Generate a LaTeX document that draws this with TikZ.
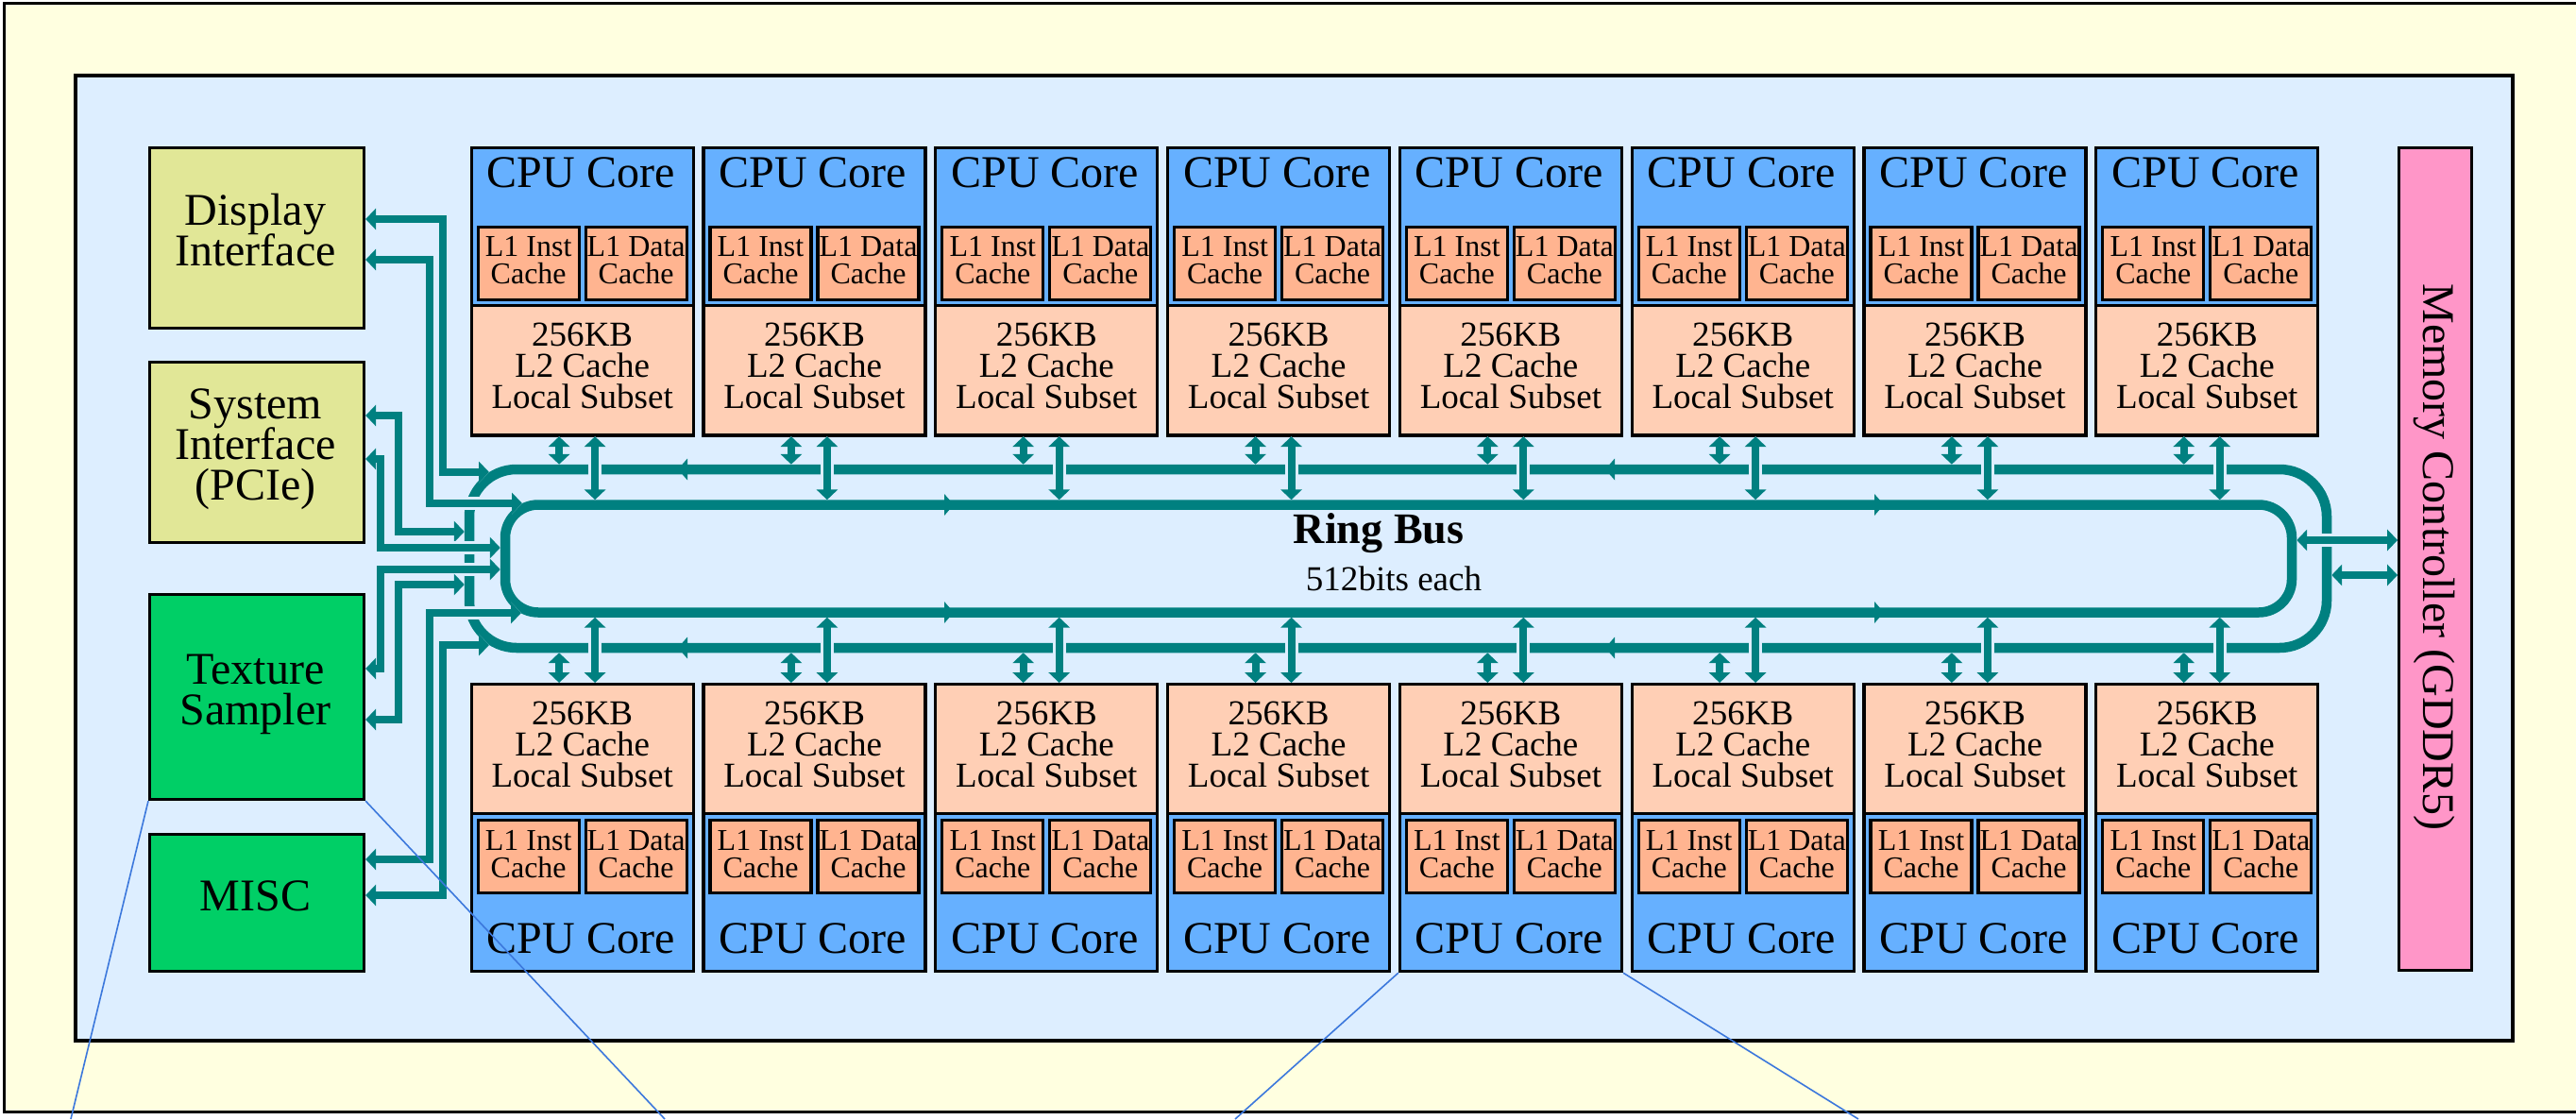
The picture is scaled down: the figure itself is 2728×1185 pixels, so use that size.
\documentclass[tikz,border=0pt]{standalone}
\usepackage{fontspec}
\setmainfont{Liberation Serif}
\usetikzlibrary{arrows.meta,calc}
\newdimen\pxu
\pxu=0.01cm
\definecolor{bgyellow}{HTML}{FFFFE0}
\definecolor{bgblue}{HTML}{DDEEFF}
\definecolor{cpublue}{HTML}{66B0FF}
\definecolor{lonefill}{HTML}{FFB490}
\definecolor{ltwofill}{HTML}{FFCFB5}
\definecolor{ifacefill}{HTML}{E1E797}
\definecolor{texfill}{HTML}{00CF66}
\definecolor{mcfill}{HTML}{FF96C8}
\definecolor{busteal}{HTML}{008080}
\definecolor{calloutblue}{HTML}{3C78DC}
\newcommand\myfbig{\fontsize{13.66pt}{12.23pt}\selectfont\lineskiplimit=-20pt\relax}
\newcommand\myfmid{\fontsize{10.53pt}{9.39pt}\selectfont\lineskiplimit=-20pt\relax}
\newcommand\myfsmall{\fontsize{9.1pt}{8.25pt}\selectfont\lineskiplimit=-20pt\relax}
\tikzset{
  blk/.style={draw=black, line width=3.2\pxu, inner sep=0pt, anchor=north west},
  cpubox/.style={blk, fill=cpublue, minimum width=235\pxu},
  lonebox/.style={blk, fill=lonefill, minimum width=107\pxu, minimum height=77\pxu},
  ltwobox/.style={blk, fill=ltwofill, minimum width=235\pxu, minimum height=137\pxu},
  bigtxt/.style={inner sep=0pt, font=\myfbig, align=center},
  midtxt/.style={inner sep=0pt, font=\myfmid, align=center},
  smalltxt/.style={inner sep=0pt, font=\myfsmall, align=center},
  ringline/.style={draw=busteal, line width=10.5\pxu, inner sep=0pt, outer sep=5.25\pxu},
  conn/.style={draw=busteal, line width=8\pxu,
    {Triangle[length=3.1pt,width=6.3pt]}-{Triangle[length=3.1pt,width=6.3pt]},
    preaction={draw=bgblue, line width=14\pxu}},
  ringtip/.style={fill=busteal},
  calloutln/.style={draw=calloutblue, line width=1.6\pxu}
}
\begin{document}
\begin{tikzpicture}[x=0.01cm,y=-0.01cm]
\useasboundingbox (0,0) rectangle (2728,1185);
\fill[white] (0,0) rectangle (2728,1185);
\draw[line width=3\pxu, fill=bgyellow] (4,4) rectangle (2800,1177);
\draw[line width=3.2\pxu, fill=bgblue] (80,80) rectangle (2661,1102);

% left side blocks
\node[blk, fill=ifacefill, minimum width=227\pxu, minimum height=191\pxu] (disp) at (157,155) {};
\node[bigtxt] (dispt) at (270.5,244) {Display\\Interface};
\node[blk, fill=ifacefill, minimum width=227\pxu, minimum height=191\pxu] (sysi) at (157,382) {};
\node[bigtxt] (sysit) at (270.5,476) {System\\Interface\\(PCIe)};
\node[blk, fill=texfill, minimum width=227\pxu, minimum height=217\pxu] (texs) at (157,628) {};
\node[bigtxt] (texst) at (270.5,735.5) {Texture\\Sampler};
\node[blk, fill=texfill, minimum width=227\pxu, minimum height=145\pxu] (misc) at (157,882) {};
\node[bigtxt, anchor=base] (misct) at (270.5,964.6) {MISC};

% memory controller
\node[blk, fill=mcfill, minimum width=77\pxu, minimum height=871\pxu] (mc) at (2539,155) {};
\node[bigtxt, rotate=-90] (mct) at (2577.5,590) {Memory Controller (GDDR5)};

% cores
\foreach \i in {1,...,8}{
  \pgfmathsetmacro\xl{497.6+(\i-1)*245.8}
  \pgfmathsetmacro\xc{\xl+117.5}
  \node[cpubox, minimum height=305\pxu] (ct\i) at (\xl,155) {};
  \node[ltwobox] (lt\i) at (\xl,322) {};
  \node[lonebox] (it\i) at (\xl+7,238.5) {};
  \node[lonebox] (dt\i) at (\xl+121,238.5) {};
  \node[bigtxt, anchor=base] (ctt\i) at (\xc,199) {CPU Core};
  \node[smalltxt] (itt\i) at ($(it\i.center)+(0,-3)$) {L1 Inst\\Cache};
  \node[smalltxt] (dtt\i) at ($(dt\i.center)+(0,-3)$) {L1 Data\\Cache};
  \node[midtxt] (ltt\i) at ($(lt\i.center)+(0,-5)$) {256KB\\L2 Cache\\Local Subset};
  \node[cpubox, minimum height=304\pxu] (cb\i) at (\xl,723) {};
  \node[ltwobox] (lb\i) at (\xl,723) {};
  \node[lonebox] (ib\i) at (\xl+7,867) {};
  \node[lonebox] (db\i) at (\xl+121,867) {};
  \node[bigtxt, anchor=base] (cbt\i) at (\xc,1009) {CPU Core};
  \node[smalltxt] (ibt\i) at ($(ib\i.center)+(0,-3)$) {L1 Inst\\Cache};
  \node[smalltxt] (dbt\i) at ($(db\i.center)+(0,-3)$) {L1 Data\\Cache};
  \node[midtxt] (lbt\i) at ($(lb\i.center)+(0,-4.5)$) {256KB\\L2 Cache\\Local Subset};
}

% ring bus
\node[ringline, rounded corners=50\pxu, minimum width=1967\pxu, minimum height=189\pxu] (outerring) at (1480.5,591.5) {};
\node[ringline, rounded corners=35\pxu, minimum width=1892\pxu, minimum height=114\pxu] (innerring) at (1481,591.5) {};
\foreach \x in {718,1700}{
  \fill[ringtip] (\x,497) -- ++(10,-11.5) -- ++(0,23) -- cycle;
  \fill[ringtip] (\x,686) -- ++(10,-11.5) -- ++(0,23) -- cycle;
}
\foreach \x in {1010,1995}{
  \fill[ringtip] (\x,534.5) -- ++(-10,-11.5) -- ++(0,23) -- cycle;
  \fill[ringtip] (\x,648.5) -- ++(-10,-11.5) -- ++(0,23) -- cycle;
}
\node[inner sep=0pt, font={\fontsize{13.1pt}{14pt}\selectfont\bfseries}, anchor=base] (rbt) at (1460,575) {Ring Bus};
\node[midtxt, anchor=base] (rbs) at (1476,625) {512bits each};

% core <-> ring connections
\foreach \i in {1,...,8}{
  \pgfmathsetmacro\xs{497.6+(\i-1)*245.8+94.5}
  \pgfmathsetmacro\xg{497.6+(\i-1)*245.8+132.5}
  \draw[conn] (lt\i.south -| \xs,0) -- (outerring.north -| \xs,0);
  \draw[conn] (lt\i.south -| \xg,0) -- (innerring.north -| \xg,0);
  \draw[conn] (outerring.south -| \xs,0) -- (lb\i.north -| \xs,0);
  \draw[conn] (innerring.south -| \xg,0) -- (lb\i.north -| \xg,0);
}

% memory controller connections
\draw[conn] (innerring.east |- 0,572) -- (mc.west |- 0,572);
\draw[conn] (outerring.east |- 0,609) -- (mc.west |- 0,609);

% left side connections
\coordinate (rD1) at (518,500);
\coordinate (rD2) at (553,533);
\coordinate (rM1) at (552,649);
\coordinate (rM2) at (518,683);
\draw[conn] (disp.east |- 0,232) -- (469,232) -- (469,500) -- (rD1);
\draw[conn] (disp.east |- 0,275) -- (455,275) -- (455,533) -- (rD2);
\draw[conn] (sysi.east |- 0,440) -- (422,440) -- (422,563) -- (outerring.west |- 0,563);
\draw[conn] (sysi.east |- 0,486) -- (403,486) -- (403,580) -- (innerring.west |- 0,580);
\draw[conn] (texs.east |- 0,708) -- (403,708) -- (403,603) -- (innerring.west |- 0,603);
\draw[conn] (texs.east |- 0,762) -- (422,762) -- (422,619) -- (outerring.west |- 0,619);
\draw[conn] (misc.east |- 0,910) -- (455,910) -- (455,649) -- (rM1);
\draw[conn] (misc.east |- 0,948) -- (469,948) -- (469,683) -- (rM2);

% callout lines
\coordinate (co1) at (75,1185);
\coordinate (co2) at (704,1185);
\coordinate (co3) at (1308,1185);
\coordinate (co4) at (1968,1185);
\draw[calloutln] (texs.south west) -- (co1);
\draw[calloutln] (texs.south east) -- (co2);
\draw[calloutln] (cb5.south west) -- (co3);
\draw[calloutln] (cb5.south east) -- (co4);
\end{tikzpicture}
\end{document}
